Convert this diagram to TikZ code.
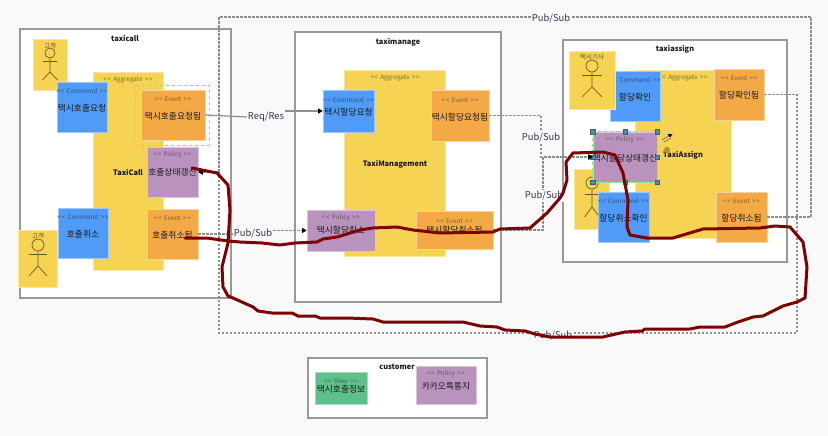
\documentclass[tikz,border=0pt]{standalone}
\usepackage{fontspec}
\setmainfont{Noto Sans CJK KR}
\usetikzlibrary{arrows.meta}
\definecolor{bgc}{HTML}{F9F9F9}
\definecolor{aggc}{HTML}{F7D354}
\definecolor{cmdc}{HTML}{4F9BF7}
\definecolor{evtc}{HTML}{F3A946}
\definecolor{polc}{HTML}{B993BE}
\definecolor{viewc}{HTML}{5FC08C}
\definecolor{framec}{HTML}{999999}
\definecolor{connc}{HTML}{8E8E8E}
\definecolor{inkc}{HTML}{7F0000}
\definecolor{handc}{HTML}{4A8FA6}
\definecolor{actc}{HTML}{6B5A1E}
\definecolor{labc}{HTML}{2E3A50}
\tikzset{
  frame/.style={draw=framec,line width=1.4pt,fill=white},
  frametitle/.style={font=\bfseries\fontsize{7.4}{9}\selectfont,inner sep=0pt,text=black!90},
  boxtitle/.style={font=\fontsize{8.7}{10}\selectfont,inner sep=0pt,text=black!90},
  stereo/.style={font=\fontsize{6.3}{7}\selectfont,inner sep=0pt},
  linklabel/.style={font=\fontsize{9.4}{11}\selectfont,text=labc,fill=bgc,inner sep=1pt},
  dashconn/.style={draw=connc,line width=1.5pt,dash pattern=on 2.2pt off 1.8pt},
  solidconn/.style={draw=connc,line width=1.2pt},
  headed/.style={-{Triangle[length=4.5pt,width=5pt,black]}},
  stroke/.style={draw=inkc,line width=3pt,line join=round,line cap=round},
  selbox/.style={draw=green!60!white,line width=0.7pt,dashed},
  handle/.style={draw=handc!70!black,line width=0.3pt,fill=handc,minimum size=4.2pt,inner sep=0pt},
  actline/.style={draw=actc,line width=0.7pt}
}
\newcommand{\stereotext}[1]{{<}\kern0.6pt{<}\kern1pt\ #1\ \kern1pt{>}\kern0.6pt{>}}
% name, colour, x1, y1, x2, y2
\newcommand{\stickerbox}[6]{%
  \node[draw=#2!55!white,fill=#2,line width=0.7pt,inner sep=0pt,
    minimum width={(#5-#3)*1pt},minimum height={(#6-#4)*1pt}]
    (#1) at ({(#3+#5)/2},{(#4+#6)/2}) {};}
% name, colour, stereotype, y, title, y
\newcommand{\stickertext}[6]{%
  \path (#1.center) ++(0,0) coordinate (#1-c);
  \node[stereo,text=#2!55!black] (#1-s) at (#1-c |- 0,#4) {\stereotext{#3}};
  \node[boxtitle] (#1-t) at (#1-c |- 0,#6) {#5};}
% name, cx, cy head, r, arm half, arm y, hip y, foot y, leg half
\newcommand{\stickman}[9]{%
  \node[draw=actc,line width=0.7pt,circle,inner sep=0pt,minimum size={2*#4*1pt}] (#1) at (#2,#3) {};
  \draw[actline] (#1.south) -- (#2,#7) -- ({#2-#9},#8) (#2,#7) -- ({#2+#9},#8);
  \draw[actline] ({#2-#5},#6) -- ({#2+#5},#6);}
\begin{document}
\begin{tikzpicture}[x=1pt,y=-1pt]
\path[fill=bgc,use as bounding box] (0,0) rectangle (828,436);

% frames
\draw[frame] (20,29) rectangle (231,298);
\draw[frame] (295,32) rectangle (501,302);
\draw[frame] (563,40) rectangle (787,262);
\draw[frame] (308,358) rectangle (487,418);
\node[frametitle] (t1) at (125,38) {taxicall};
\node[frametitle] (t2) at (398,42) {taximanage};
\node[frametitle] (t3) at (675,49) {taxiassign};

% taxicall
\stickerbox{callAgg}{aggc}{93}{72}{163}{270}
\stickerbox{callActA}{aggc}{33}{39}{67}{90}
\stickman{callHeadA}{50}{53}{5}{7}{61}{72}{80}{7.5}
\node[stereo,font=\fontsize{6.5}{7}\selectfont,text=actc] (callNameA) at (50,46) {고객};
\stickerbox{callCmd}{cmdc}{57}{82}{107}{132}
\stickertext{callCmd}{cmdc}{Command}{91}{택시호출요청}{108}
\node[stereo,text=aggc!50!black] (callAggS) at (128,80) {\stereotext{Aggregate}};
\node[frametitle] (callAggT) at (128,172) {TaxiCall};
\stickerbox{callRequested}{evtc}{141}{90}{205}{140}
\stickertext{callRequested}{evtc}{Event}{99}{택시호출요청됨}{116}
\draw[selbox] (135,85) rectangle (209,145);
\stickerbox{callPolicy}{polc}{147}{147}{198}{197}
\stickertext{callPolicy}{polc}{Policy}{155}{호출상태갱신}{172}
\stickerbox{callCancelled}{evtc}{147}{209}{198}{259}
\stickertext{callCancelled}{evtc}{Event}{218}{호출취소됨}{235}
\stickerbox{callActB}{aggc}{18}{230}{57}{287}
\stickman{callHeadB}{38}{245}{6}{9}{254}{266}{276}{9}
\node[stereo,font=\fontsize{6.5}{7}\selectfont,text=actc] (callNameB) at (38,236) {고객};
\stickerbox{callCancel}{cmdc}{58}{208}{108}{258}
\stickertext{callCancel}{cmdc}{Command}{217}{호출취소}{234}

% taximanage
\stickerbox{mgrAgg}{aggc}{344}{70}{445}{256}
\node[stereo,text=aggc!50!black] (mgrAggS) at (395,78) {\stereotext{Aggregate}};
\node[frametitle] (mgrAggT) at (395,164) {TaxiManagement};
\stickerbox{mgrCmd}{cmdc}{323}{90}{374}{132}
\stickertext{mgrCmd}{cmdc}{Command}{100}{택시할당요청}{112}
\stickerbox{mgrRequested}{evtc}{431}{90}{489}{141}
\stickertext{mgrRequested}{evtc}{Event}{100}{택시할당요청됨}{117}
\stickerbox{mgrPolicy}{polc}{307}{210}{375}{251}
\stickertext{mgrPolicy}{polc}{Policy}{218}{택시할당취소}{230}
\stickerbox{mgrCancelled}{evtc}{416}{211}{493}{249}
\stickertext{mgrCancelled}{evtc}{Event}{221}{택시할당취소됨}{230}

% taxiassign
\stickerbox{asgAgg}{aggc}{635}{70}{731}{238}
\node[stereo,text=aggc!50!black] (asgAggS) at (683,78) {\stereotext{Aggregate}};
\node[frametitle] (asgAggT) at (683,155) {TaxiAssign};
\stickerbox{asgCmd}{cmdc}{610}{71}{660}{121}
\stickertext{asgCmd}{cmdc}{Command}{80}{할당확인}{97}
\stickerbox{asgActA}{aggc}{569}{51}{615}{109}
\stickman{asgHeadA}{592}{66}{6}{10}{75}{87}{97}{10}
\node[stereo,font=\fontsize{6.5}{7}\selectfont,text=actc] (asgNameA) at (592,57) {택시기사};
\stickerbox{asgConfirmed}{evtc}{714}{69}{764}{120}
\stickertext{asgConfirmed}{evtc}{Event}{78}{할당확인됨}{95}
\stickerbox{asgActB}{aggc}{574}{169}{609}{229}
\stickman{asgHeadB}{592}{183}{6}{7}{194}{207}{217}{7.5}
\stickerbox{asgCancel}{cmdc}{598}{192}{649}{242}
\stickertext{asgCancel}{cmdc}{Command}{201}{할당취소확인}{218}
\stickerbox{asgCancelled}{evtc}{716}{192}{767}{242}
\stickertext{asgCancelled}{evtc}{Event}{201}{할당취소됨}{218}
\stickerbox{asgPolicy}{polc}{593}{132}{657}{182}
\stickertext{asgPolicy}{polc}{Policy}{140}{택시할당상태갱신}{158}
\draw[selbox] (asgPolicy.north west) rectangle (asgPolicy.south east);
\foreach \a in {north west,north,north east,west,east,south west,south,south east}
  \node[handle] at (asgPolicy.\a) {};
\draw[draw=black!70,line width=0.5pt] (662,140) -- (670,135) (664,142) -- (671,138);
\fill[black] (667.5,134) -- (672.5,134) -- (670,137.5) -- cycle;
\fill[fill=black!30!aggc] (667,150) circle (3.2pt);

% customer
\node[frametitle] (t4) at (397,367) {customer};
\stickerbox{custView}{viewc}{315}{372}{367}{404}
\stickertext{custView}{viewc}{View}{381}{택시호출정보}{389}
\stickerbox{custPolicy}{polc}{416}{366}{476}{404}
\stickertext{custPolicy}{polc}{Policy}{374}{카카오톡통지}{386}

% connectors
\coordinate (cornerTR) at (811,17);
\coordinate (cornerTL) at (219,17);
\coordinate (cornerBR) at (797,333);
\coordinate (cornerBL) at (219,333);
\coordinate (joinA) at (541,157);
\coordinate (joinB) at (543,157);
\draw[dashconn,headed] (asgCancelled.east) -| (cornerTR) -- (cornerTL) |- (callPolicy.east);
\draw[dashconn,headed] (asgConfirmed.east) -| (cornerBR) -- (cornerBL) |- (callPolicy.east);
\draw[dashconn,headed] (mgrRequested.east) -| (joinA) -- (asgPolicy.west);
\draw[dashconn,headed] (mgrCancelled.east) -| (joinB) -- (asgPolicy.west);
\node[linklabel] (psTop) at (551,19) {Pub/Sub};
\node[linklabel] (psBottom) at (553,336) {Pub/Sub};
\node[linklabel] (psA) at (541,138) {Pub/Sub};
\node[linklabel] (psB) at (544,196) {Pub/Sub};
\node[linklabel] (rr) at (266,117) {Req/Res};
\node[linklabel] (psC) at (253,234) {Pub/Sub};
\draw[solidconn] (callRequested.east) -- (rr.west);
\draw[solidconn,headed] (rr.east |- mgrCmd.west) -- (mgrCmd.west);
\draw[dashconn] (callCancelled.east) -- (psC.west);
\draw[dashconn,headed] (psC.east |- mgrPolicy.west) -- (mgrPolicy.west);

% freehand stroke
\draw[stroke] (185,238) -- (207,238) -- (228,241) -- (240,242) -- (262,243) -- (280,245)
  -- (295,243) -- (317,242) -- (323,239) -- (337,237) -- (360,230) -- (373,228) -- (397,227)
  -- (413,230) -- (440,233) -- (493,232) -- (500,229) -- (530,228) -- (547,213) -- (560,198)
  -- (563,193) -- (567,180) -- (566,162) -- (573,153) -- (603,152) -- (615,155) -- (623,173)
  -- (628,200) -- (627,227) -- (630,235) -- (647,238) -- (673,238) -- (703,229) -- (760,228)
  -- (775,226) -- (790,227) -- (803,242) -- (807,267) -- (805,298) -- (797,302) -- (783,306)
  -- (763,316) -- (753,317) -- (738,322) -- (725,327) -- (700,327) -- (690,329) -- (645,329)
  -- (642,331) -- (625,332) -- (607,336) -- (603,337) -- (550,337) -- (535,334) -- (525,331)
  -- (505,330) -- (497,327) -- (480,326) -- (463,322) -- (383,322) -- (373,319) -- (347,318)
  -- (320,318) -- (315,316) -- (298,316) -- (292,313) -- (272,313) -- (258,311) -- (253,307)
  -- (233,298) -- (228,296) -- (223,287) -- (222,267) -- (228,243) -- (230,210) -- (228,185)
  -- (217,173) -- (207,171) -- (192,168);
\end{tikzpicture}
\end{document}
